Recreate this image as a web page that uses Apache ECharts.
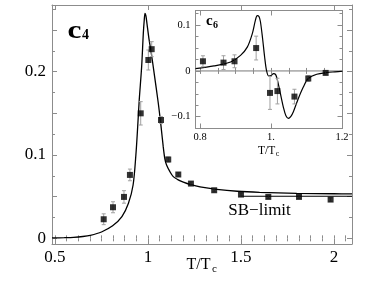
<!DOCTYPE html>
<html><head><meta charset="utf-8">
<script src="https://cdn.jsdelivr.net/npm/echarts@6/dist/echarts.min.js"></script>
<style>html,body{margin:0;padding:0;background:#fff}#c{width:382px;height:286px}</style>
</head><body><div id="c"></div><script>
// ---- main panel (c4) data ----
const mainX   = [0.762, 0.812, 0.871, 0.903, 0.961, 1.002, 1.020, 1.070, 1.109, 1.163, 1.231, 1.356, 1.500, 1.647, 1.812, 1.982];
const mainY   = [0.0229, 0.0373, 0.0497, 0.0761, 0.150, 0.214, 0.227, 0.142, 0.0946, 0.0766, 0.0657, 0.0577, 0.0525, 0.0497, 0.0497, 0.0465];
const mainErr = [0.0065, 0.0066, 0.0075, 0.007, 0.014, 0.012, 0.009, 0.004, 0.003, 0.002, 0.002, 0.002, 0.002, 0.002, 0.002, 0.002];
const mainCurveX = [0.484, 0.55, 0.60, 0.65, 0.69, 0.75, 0.81, 0.86, 0.895, 0.92, 0.935, 0.945, 0.953, 0.966, 0.975, 0.980, 0.984, 0.989, 0.995, 1.005, 1.018, 1.032, 1.055, 1.070, 1.082, 1.091, 1.100, 1.118, 1.136, 1.16, 1.19, 1.23, 1.28, 1.37, 1.48, 1.60, 1.80, 2.00, 2.097];
const mainCurveY = [0.0005, 0.0008, 0.0012, 0.0022, 0.0036, 0.0076, 0.0150, 0.0260, 0.042, 0.064, 0.100, 0.135, 0.166, 0.206, 0.246, 0.262, 0.270, 0.267, 0.257, 0.240, 0.222, 0.200, 0.163, 0.135, 0.110, 0.095, 0.088, 0.080, 0.074, 0.0705, 0.0675, 0.0645, 0.0618, 0.0588, 0.0565, 0.0552, 0.0540, 0.0535, 0.0533];
const sbLimit = 0.0505, sbStart = 1.5;
const mainXTicks = [0.5, 1, 1.5, 2];
const mainYTicks = [0, 0.1, 0.2];

// ---- inset (c6) data ----
const insetX   = [0.808, 0.866, 0.897, 0.958, 0.997, 1.018, 1.066, 1.105, 1.154];
const insetY   = [0.0211, 0.0182, 0.0211, 0.050, -0.048, -0.044, -0.056, -0.0165, -0.0043];
const insetErr = [0.012, 0.015, 0.014, 0.026, 0.036, 0.028, 0.016, 0.006, 0.004];
const insetCurveX = [0.787, 0.839, 0.886, 0.914, 0.933, 0.947, 0.956, 0.961, 0.966, 0.970, 0.976, 0.982, 0.987, 0.993, 1.000, 1.007, 1.013, 1.018, 1.026, 1.035, 1.042, 1.049, 1.056, 1.063, 1.077, 1.091, 1.105, 1.129, 1.157, 1.180, 1.2015];
const insetCurveY = [0.0052, 0.011, 0.0196, 0.034, 0.052, 0.081, 0.111, 0.121, 0.119, 0.108, 0.072, 0.030, 0.002, -0.011, -0.010, -0.006, -0.008, -0.020, -0.048, -0.080, -0.098, -0.1035, -0.099, -0.089, -0.060, -0.035, -0.0165, -0.0072, -0.0036, -0.002, -0.0007];
const insetXTicks = [0.8, 1.0, 1.2];
const insetYTicks = [-0.1, 0, 0.1];

// ---- ranges ----
const mainXMin = 0.484, mainXMax = 2.097, mainYMin = -0.0068, mainYMax = 0.28;
const insetXMin = 0.787, insetXMax = 1.2015, insetYMin = -0.1257, insetYMax = 0.132;

const FRAME = '#8c8c8c';
const SERIF = '"Liberation Serif", "DejaVu Serif", serif';

function range(a, b, step) { const r = []; for (let v = a; v <= b + 1e-9; v += step) r.push(+v.toFixed(6)); return r; }

function frameAxes(dim, gridIndex, min, max, majors, minors, label, z) {
  const positions = dim === 'x' ? ['bottom', 'top'] : ['left', 'right'];
  const axes = [];
  positions.forEach((pos, pi) => {
    axes.push({
      type: 'value', gridIndex, position: pos, min, max, z,
      axisLine: { show: true, onZero: false, lineStyle: { color: FRAME, width: 1 } },
      splitLine: { show: false },
      axisTick: { show: true, inside: true, length: 5, customValues: majors, lineStyle: { color: FRAME } },
      axisLabel: pi === 0 ? Object.assign({ show: true, customValues: label.values, fontFamily: SERIF, color: '#000' }, label.opts) : { show: false }
    });
    axes.push({
      type: 'value', gridIndex, position: pos, min, max, z,
      axisLine: { show: false }, splitLine: { show: false },
      axisTick: { show: true, inside: true, length: 3, customValues: minors, lineStyle: { color: FRAME } },
      axisLabel: { show: false }
    });
  });
  return axes;
}

const xAxes = [].concat(
  frameAxes('x', 0, mainXMin, mainXMax, mainXTicks, range(0.5, 2.0625, 0.0625),
    { values: mainXTicks, opts: { fontSize: 17, margin: 5, formatter: v => String(+v.toFixed(2)) } }, 2),
  frameAxes('x', 1, insetXMin, insetXMax, insetXTicks, range(0.8, 1.2, 0.05),
    { values: insetXTicks, opts: { fontSize: 10.5, margin: 3, formatter: v => (Math.abs(v - 1) < 1e-9 ? '1.' : String(+v.toFixed(2))) } }, 12)
);
const yAxes = [].concat(
  frameAxes('y', 0, mainYMin, mainYMax, range(0, 0.25, 0.05), range(0, 0.275, 0.025),
    { values: mainYTicks, opts: { fontSize: 17, margin: 6, formatter: v => String(+v.toFixed(2)) } }, 2),
  frameAxes('y', 1, insetYMin, insetYMax, insetYTicks, range(-0.125, 0.125, 0.025),
    { values: insetYTicks, opts: { fontSize: 10.5, margin: 5, formatter: v => (v < 0 ? '\u2212' + String(+(-v).toFixed(2)) : String(+v.toFixed(2))) } }, 12)
);
// main axes index 0, inset axes index 4

function errorBars(xs, ys, es, xi, yi, z) {
  return {
    type: 'custom', xAxisIndex: xi, yAxisIndex: yi, z, silent: true,
    data: xs.map((x, i) => [x, ys[i] - es[i], ys[i] + es[i]]),
    encode: { x: 0, y: [1, 2] },
    renderItem: (p, api) => {
      const a = api.coord([api.value(0), api.value(1)]);
      const b = api.coord([api.value(0), api.value(2)]);
      const w = 2, st = { stroke: '#a0a0a0', lineWidth: 1 };
      return { type: 'group', children: [
        { type: 'line', shape: { x1: a[0], y1: a[1], x2: b[0], y2: b[1] }, style: st },
        { type: 'line', shape: { x1: a[0] - w, y1: a[1], x2: a[0] + w, y2: a[1] }, style: st },
        { type: 'line', shape: { x1: b[0] - w, y1: b[1], x2: b[0] + w, y2: b[1] }, style: st }
      ] };
    }
  };
}

const pairs = (xs, ys) => xs.map((x, i) => [x, ys[i]]);

const option = {
  animation: false,
  backgroundColor: '#fff',
  grid: [
    { left: 52, top: 5, width: 300, height: 239, z: 0 },
    { left: 195.5, top: 10.5, width: 147, height: 118, show: true, backgroundColor: '#fff', borderWidth: 0, z: 10 }
  ],
  xAxis: xAxes,
  yAxis: yAxes,
  series: [
    { type: 'line', xAxisIndex: 0, yAxisIndex: 0, z: 3, data: pairs(mainCurveX, mainCurveY), showSymbol: false, smooth: 0.3, lineStyle: { color: '#000', width: 1.3 } },
    { type: 'line', xAxisIndex: 0, yAxisIndex: 0, z: 3, data: [[sbStart, sbLimit], [mainXMax, sbLimit]], showSymbol: false, lineStyle: { color: '#000', width: 1.2 } },
    errorBars(mainX, mainY, mainErr, 0, 0, 4),
    { type: 'scatter', xAxisIndex: 0, yAxisIndex: 0, z: 5, data: pairs(mainX, mainY), symbol: 'rect', symbolSize: 6, itemStyle: { color: '#000' } },

    { type: 'line', xAxisIndex: 4, yAxisIndex: 4, z: 11, data: [[insetXMin, 0], [insetXMax, 0]], showSymbol: false, lineStyle: { color: '#555', width: 0.8 } },
    { type: 'line', xAxisIndex: 4, yAxisIndex: 4, z: 12, data: pairs(insetCurveX, insetCurveY), showSymbol: false, smooth: 0.3, lineStyle: { color: '#000', width: 1.2 } },
    errorBars(insetX, insetY, insetErr, 4, 4, 13),
    { type: 'scatter', xAxisIndex: 4, yAxisIndex: 4, z: 14, data: pairs(insetX, insetY), symbol: 'rect', symbolSize: 6, itemStyle: { color: '#000' } }
  ],
  graphic: [
    { type: 'text', x: 67.5, y: 19.5, scaleX: 1.25, z: 20, style: { text: 'c', font: 'bold 25px ' + SERIF, fill: '#000' } },
    { type: 'text', x: 82, y: 28, z: 20, style: { text: '4', font: 'bold 14px ' + SERIF, fill: '#000' } },
    { type: 'text', x: 206, y: 14, z: 20, style: { text: 'c', font: 'bold 15px ' + SERIF, fill: '#000' } },
    { type: 'text', x: 213, y: 20, z: 20, style: { text: '6', font: 'bold 10px ' + SERIF, fill: '#000' } },
    { type: 'text', x: 186.5, y: 257, z: 20, style: { text: 'T/T', font: '16px ' + SERIF, fill: '#000' } },
    { type: 'text', x: 212, y: 264, z: 20, style: { text: 'c', font: '11px ' + SERIF, fill: '#000' } },
    { type: 'text', x: 258, y: 145, z: 20, style: { text: 'T/T', font: '11.5px ' + SERIF, fill: '#000' } },
    { type: 'text', x: 275.8, y: 149.5, z: 20, style: { text: 'c', font: '8px ' + SERIF, fill: '#000' } },
    { type: 'text', x: 228.3, y: 202, z: 20, style: { text: 'SB\u2212limit', font: '17px ' + SERIF, fill: '#000' } }
  ]
};
const chart = echarts.init(document.getElementById('c'), null, { renderer: 'canvas' });
chart.setOption(option);
</script></body></html>
